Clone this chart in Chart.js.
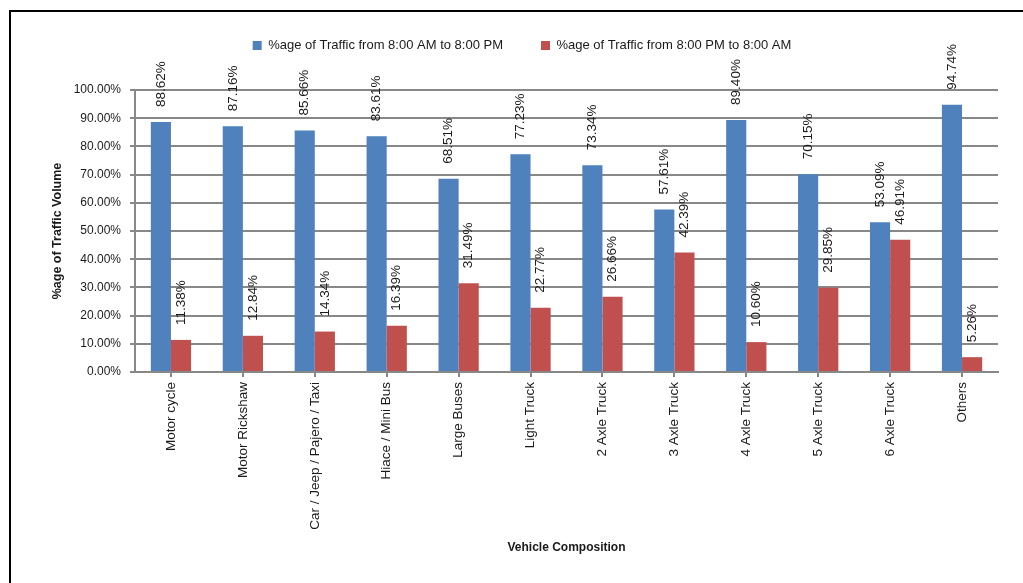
<!DOCTYPE html>
<html>
<head>
<meta charset="utf-8">
<script src="https://cdn.jsdelivr.net/npm/chart.js@4/dist/chart.umd.min.js"></script>
<style>
  body { margin: 0; background: #fff; overflow: hidden; }
  #frame { position: absolute; left: 9px; top: 10px; width: 1100px; height: 700px; border: 2px solid #000; }
  #myChart { position: absolute; left: 0; top: 0; }
</style>
</head>
<body>
<div id="frame"></div>
<canvas id="myChart" width="1023" height="583"></canvas>
<script>
// categories and values
const vehicles = ['Motor cycle', 'Motor Rickshaw', 'Car / Jeep / Pajero / Taxi', 'Hiace / Mini Bus',
  'Large Buses', 'Light Truck', '2 Axle Truck', '3 Axle Truck', '4 Axle Truck', '5 Axle Truck',
  '6 Axle Truck', 'Others'];
const dayShare = [88.62, 87.16, 85.66, 83.61, 68.51, 77.23, 73.34, 57.61, 89.40, 70.15, 53.09, 94.74];
const nightShare = [11.38, 12.84, 14.34, 16.39, 31.49, 22.77, 26.66, 42.39, 10.60, 29.85, 46.91, 5.26];

const font = "'Liberation Sans', Arial, sans-serif";
Chart.defaults.font.family = font;
Chart.defaults.font.size = 12;
Chart.defaults.color = '#1a1a1a';

// labels written vertically above each bar
const valueLabels = {
  id: 'valueLabels',
  afterDatasetsDraw(chart) {
    const ctx = chart.ctx;
    ctx.save();
    ctx.font = '13.5px ' + font;
    ctx.fillStyle = '#1a1a1a';
    ctx.textAlign = 'left';
    ctx.textBaseline = 'middle';
    chart.data.datasets.forEach((ds, i) => {
      chart.getDatasetMeta(i).data.forEach((bar, j) => {
        ctx.save();
        ctx.translate(bar.x, bar.y - 15);
        ctx.rotate(-Math.PI / 2);
        ctx.fillText(ds.data[j].toFixed(2) + '%', 0, 0);
        ctx.restore();
      });
    });
    ctx.restore();
  }
};

const data = {
  labels: vehicles,
  datasets: [{
    label: '%age of Traffic from 8:00 AM to 8:00 PM',
    data: dayShare,
    backgroundColor: '#4F81BD',
    categoryPercentage: 0.56,
    barPercentage: 1.0
  }, {
    label: '%age of Traffic from 8:00 PM to 8:00 AM',
    data: nightShare,
    backgroundColor: '#C0504D',
    categoryPercentage: 0.56,
    barPercentage: 1.0
  }]
};

const config = {
  type: 'bar',
  data: data,
  options: {
    responsive: false,
    animation: false,
    layout: { padding: { left: 46, right: 25, top: 1, bottom: 24 } },
    plugins: {
      legend: {
        position: 'top',
        labels: { boxWidth: 9, boxHeight: 9, padding: 38, font: { size: 13 }, color: '#1a1a1a' }
      },
      tooltip: { enabled: false }
    },
    scales: {
      // empty axis only used to keep room between legend and plot
      spacer: {
        position: 'top',
        grid: { display: false },
        ticks: { display: false },
        border: { display: false },
        afterFit: (scale) => { scale.height = 28; }
      },
      x: {
        grid: { offset: false, drawOnChartArea: false, drawTicks: true, tickLength: 5, color: '#888', lineWidth: 2 },
        border: { color: '#888', width: 2 },
        ticks: { minRotation: 90, maxRotation: 90, autoSkip: false, padding: 5, font: { size: 13.5 } },
        title: { display: true, text: 'Vehicle Composition', font: { size: 12, weight: 'bold' }, padding: { top: 10 } },
        afterFit: (scale) => { scale.height = 187; }
      },
      y: {
        min: 0,
        max: 100,
        ticks: { stepSize: 10, padding: 9, callback: (v) => v.toFixed(2) + '%' },
        grid: { color: '#888', lineWidth: 2, tickLength: 5 },
        border: { color: '#888', width: 2 },
        title: { display: true, text: '%age of Traffic Volume', font: { size: 12.5, weight: 'bold' } },
        afterFit: (scale) => { scale.width = 89; }
      }
    }
  },
  plugins: [valueLabels]
};

const myChart = new Chart(document.getElementById('myChart'), config);
</script>
</body>
</html>
